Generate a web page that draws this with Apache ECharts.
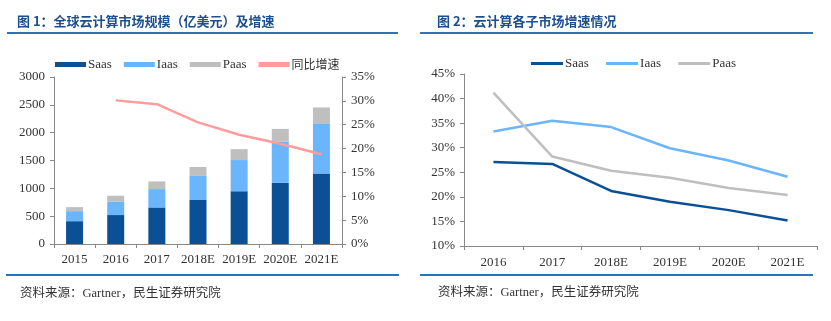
<!DOCTYPE html>
<html>
<head>
<meta charset="utf-8">
<script src="https://cdn.jsdelivr.net/npm/echarts@6/dist/echarts.min.js"></script>
<style>
  html, body { margin: 0; padding: 0; background: #fff; }
  #chart { width: 831px; height: 321px; }
</style>
</head>
<body>
<div id="chart"></div>
<script>
// Figure 1: global cloud market size (100M USD) and YoY growth
const years1 = ['2015', '2016', '2017', '2018E', '2019E', '2020E', '2021E'];
const saasSize = [410, 520, 657, 790, 948, 1098, 1266];
const iaasSize = [180, 245, 330, 433, 560, 743, 902];
const paasSize = [72, 102, 137, 160, 196, 227, 285];
const totalGrowth = [null, 30.1, 29.3, 25.5, 22.9, 21.0, 18.8];

// Figure 2: growth of each sub-market (%)
const years2 = ['2016', '2017', '2018E', '2019E', '2020E', '2021E'];
const saasGrowth = [27.1, 26.7, 21.2, 19.0, 17.3, 15.2];
const iaasGrowth = [33.3, 35.5, 34.2, 29.9, 27.4, 24.1];
const paasGrowth = [41.2, 28.2, 25.3, 23.9, 21.8, 20.4];

const C_SAAS = '#0B5094';
const C_IAAS = '#6AB5FB';
const C_PAAS = '#BFBFBF';
const C_GROW = '#FF9C9C';
const C_TITLE = '#1C4F8C';
const C_RULE = '#2E74B5';
const SERIF = '"Liberation Serif", "Times New Roman", serif';
const CJK = '"Noto Sans CJK SC", sans-serif';

const axisLabel = { color: '#333', fontFamily: SERIF, fontSize: 13 };
const greyLine = { show: true, lineStyle: { color: '#888', width: 1 } };
const greyTick = { show: true, length: 4, lineStyle: { color: '#888' } };

const chart = echarts.init(document.getElementById('chart'), null, { renderer: 'canvas' });

chart.setOption({
  animation: false,
  backgroundColor: '#fff',
  textStyle: { fontFamily: SERIF },
  legend: [
    {
      left: 50, top: 53,
      itemWidth: 31, itemHeight: 5, itemGap: 12,
      formatter: name => /[\u4e00-\u9fff]/.test(name) ? '{cjk|' + name + '}' : name,
      textStyle: {
        color: '#333', fontFamily: SERIF, fontSize: 13, padding: [0, 0, 0, -3],
        rich: { cjk: { fontFamily: CJK, fontSize: 12, color: '#333' } }
      },
      data: [
        { name: 'Saas', icon: 'rect' },
        { name: 'Iaas', icon: 'rect' },
        { name: 'Paas', icon: 'rect' },
        { name: '同比增速', icon: 'rect', itemStyle: { color: C_GROW } }
      ]
    },
    {
      left: 526, top: 52,
      itemWidth: 32, itemHeight: 3, itemGap: 14,
      textStyle: { color: '#333', fontFamily: SERIF, fontSize: 13, padding: [0, 0, 0, -3] },
      data: [
        { name: 'Saas ', icon: 'rect', itemStyle: { color: C_SAAS } },
        { name: 'Iaas ', icon: 'rect', itemStyle: { color: C_IAAS } },
        { name: 'Paas ', icon: 'rect', itemStyle: { color: C_PAAS } }
      ]
    }
  ],
  grid: [
    { left: 54, top: 77, width: 288, height: 167, containLabel: false },
    { left: 464, top: 74, width: 353, height: 172, containLabel: false }
  ],
  xAxis: [
    {
      gridIndex: 0, type: 'category', data: years1,
      axisLine: greyLine, axisTick: greyTick,
      axisLabel: Object.assign({ margin: 9, interval: 0 }, axisLabel)
    },
    {
      gridIndex: 1, type: 'category', data: years2,
      axisLine: greyLine, axisTick: greyTick,
      axisLabel: Object.assign({ margin: 10, interval: 0 }, axisLabel)
    }
  ],
  yAxis: [
    {
      gridIndex: 0, type: 'value', min: 0, max: 3000, interval: 500,
      axisLine: greyLine, axisTick: greyTick, splitLine: { show: false },
      axisLabel: Object.assign({ margin: 9, formatter: v => String(v) }, axisLabel)
    },
    {
      gridIndex: 0, type: 'value', position: 'right', min: 0, max: 35, interval: 5,
      axisLine: greyLine, axisTick: greyTick, splitLine: { show: false },
      axisLabel: Object.assign({ margin: 9, formatter: '{value}%' }, axisLabel)
    },
    {
      gridIndex: 1, type: 'value', min: 10, max: 45, interval: 5,
      axisLine: greyLine, axisTick: greyTick, splitLine: { show: false },
      axisLabel: Object.assign({ margin: 9, formatter: '{value}%' }, axisLabel)
    }
  ],
  series: [
    { name: 'Saas', type: 'bar', stack: 'size', xAxisIndex: 0, yAxisIndex: 0, barWidth: 17, data: saasSize, itemStyle: { color: C_SAAS } },
    { name: 'Iaas', type: 'bar', stack: 'size', xAxisIndex: 0, yAxisIndex: 0, barWidth: 17, data: iaasSize, itemStyle: { color: C_IAAS } },
    { name: 'Paas', type: 'bar', stack: 'size', xAxisIndex: 0, yAxisIndex: 0, barWidth: 17, data: paasSize, itemStyle: { color: C_PAAS } },
    { name: '同比增速', type: 'line', xAxisIndex: 0, yAxisIndex: 1, data: totalGrowth, symbol: 'none',
      lineStyle: { color: C_GROW, width: 2.5 }, itemStyle: { color: C_GROW } },

    { name: 'Saas ', type: 'line', xAxisIndex: 1, yAxisIndex: 2, data: saasGrowth, symbol: 'none',
      lineStyle: { color: C_SAAS, width: 2.5 }, itemStyle: { color: C_SAAS } },
    { name: 'Iaas ', type: 'line', xAxisIndex: 1, yAxisIndex: 2, data: iaasGrowth, symbol: 'none',
      lineStyle: { color: C_IAAS, width: 2.5 }, itemStyle: { color: C_IAAS } },
    { name: 'Paas ', type: 'line', xAxisIndex: 1, yAxisIndex: 2, data: paasGrowth, symbol: 'none',
      lineStyle: { color: C_PAAS, width: 2.5 }, itemStyle: { color: C_PAAS } }
  ],
  graphic: [
    { type: 'text', left: 17, top: 15, style: { text: '图 1：全球云计算市场规模（亿美元）及增速', fill: C_TITLE, font: 'bold 13px ' + CJK } },
    { type: 'text', left: 437, top: 15, style: { text: '图 2：云计算各子市场增速情况', fill: C_TITLE, font: 'bold 13px ' + CJK } },
    { type: 'rect', shape: { x: 7, y: 32, width: 391, height: 2 }, style: { fill: C_RULE } },
    { type: 'rect', shape: { x: 420, y: 32, width: 393, height: 2 }, style: { fill: C_RULE } },
    { type: 'rect', shape: { x: 6, y: 274, width: 393, height: 2 }, style: { fill: C_RULE } },
    { type: 'rect', shape: { x: 420, y: 274, width: 393, height: 2 }, style: { fill: C_RULE } },
    { type: 'text', left: 20, top: 287, style: { text: '资料来源：Gartner，民生证券研究院', fill: '#333', font: '12.5px ' + SERIF + ',' + CJK } },
    { type: 'text', left: 438, top: 286, style: { text: '资料来源：Gartner，民生证券研究院', fill: '#333', font: '12.5px ' + SERIF + ',' + CJK } }
  ]
});
</script>
</body>
</html>
